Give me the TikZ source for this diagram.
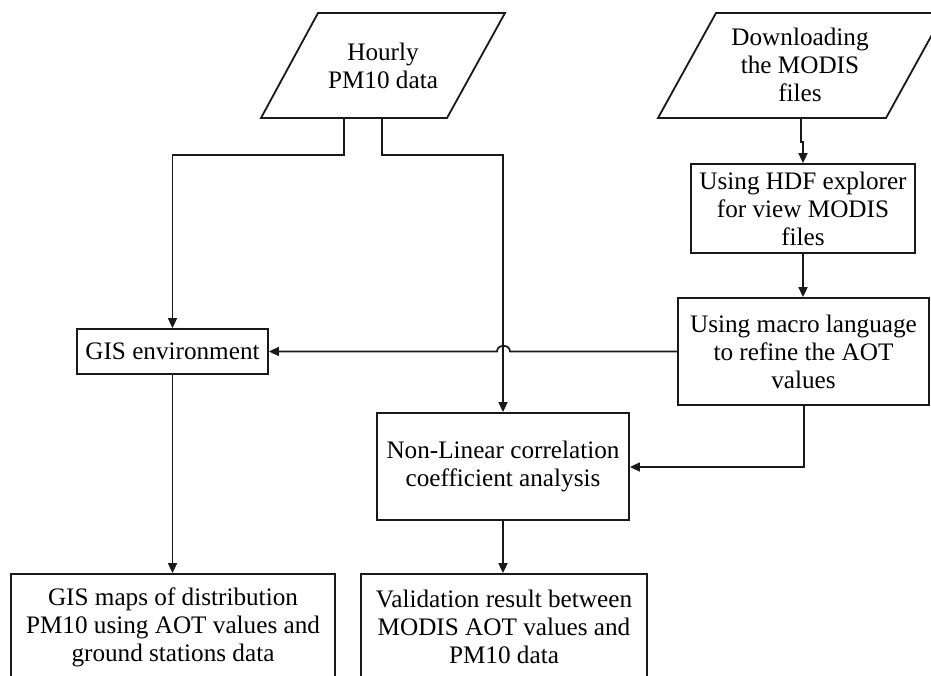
\documentclass[tikz,border=0pt]{standalone}
\usepackage{fontspec}
\setmainfont{Liberation Serif}
\usetikzlibrary{arrows.meta}
\begin{document}
\begin{tikzpicture}[x=1pt,y=-1pt,
  box/.style={draw=black!90, line width=1.8pt, rectangle, inner sep=0pt, align=center,
    font=\fontsize{25.2}{28}\selectfont},
  txt/.style={inner sep=0pt, align=center, font=\fontsize{25.2}{28}\selectfont},
  pgram/.style={draw=black!90, line width=1.8pt, line join=miter},
  conn/.style={draw=black!90, line width=1.7pt},
  arr/.style={conn, -{Triangle[length=10pt,width=9pt]}}]
\useasboundingbox (0,0) rectangle (931,676);
% input parallelograms
\draw[pgram] (318,13) -- (505,13) -- (447,118) -- (261,118) -- cycle;
\node[txt] (hourly) at (383,66) {Hourly\\PM10 data};
\coordinate (hourlyL) at (344,118);
\coordinate (hourlyR) at (382,118);
\draw[pgram] (716,13) -- (944,13) -- (886,118) -- (658,118) -- cycle;
\node[txt] (download) at (800,65) {Downloading\\the MODIS\\files};
\coordinate (downOut) at (801,118);
% boxes
\node[box, minimum width=191pt, minimum height=45pt] (gisenv) at (172.5,351.5) {GIS environment};
\node[box, minimum width=224pt, minimum height=89pt] (hdf) at (803,208.5) {Using HDF explorer\\for view MODIS\\files};
\node[box, minimum width=251pt, minimum height=107pt] (macro) at (803.5,351.5) {Using macro language\\to refine the AOT\\values};
\node[box, minimum width=252pt, minimum height=107pt] (nonlin) at (503,466.5) {Non-Linear correlation\\coefficient analysis};
\node[box, minimum width=324pt, minimum height=106pt] (gismaps) at (173,627) {GIS maps of distribution\\PM10 using AOT values and\\ground stations data};
\node[box, minimum width=286pt, minimum height=106pt] (valid) at (504,627) {Validation result between\\MODIS AOT values and\\PM10 data};
% connectors
\draw[arr] (hourlyL) -- (344,155) -- (gisenv.north |- 0,155) -- (gisenv.north);
\draw[arr] (hourlyR) -- (382,155) -- (nonlin.north |- 0,155) -- (nonlin.north);
\draw[arr] (downOut) -- (801,142) -- (803,142) -- (hdf.north -| 803,0);
\draw[arr] (hdf.south -| 803,0) -- (macro.north -| 803,0);
\draw[arr] (macro.west) -- (510,351.5) .. controls (510,344) and (497,344) .. (497,351.5) -- (gisenv.east);
\draw[arr] (macro.south -| 804,0) -- (804,467) -- (nonlin.east |- 0,467);
\draw[arr] (gisenv.south) -- (gismaps.north -| gisenv.south);
\draw[arr] (nonlin.south) -- (valid.north -| nonlin.south);
\end{tikzpicture}
\end{document}
